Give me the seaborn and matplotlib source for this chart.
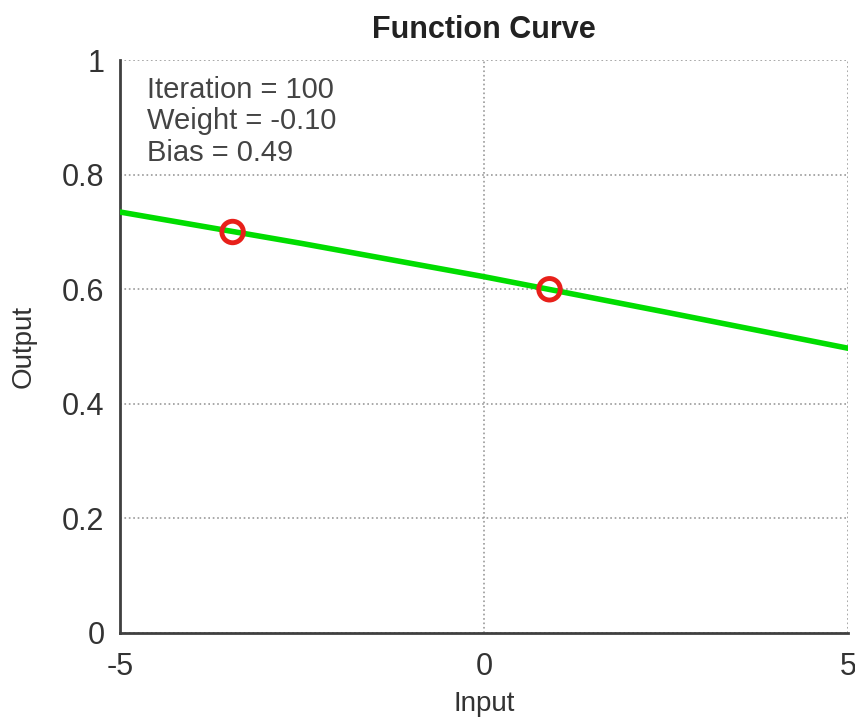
import matplotlib
matplotlib.use('Agg')
import matplotlib.pyplot as plt
import seaborn as sns

# curve
curve_x = [-5, -2.5, 0, 2.5, 5]
curve_y = [0.735, 0.68, 0.622, 0.56, 0.497]

# training points
point_x = [-3.45, 0.9]
point_y = [0.70, 0.60]

info_lines = ['Iteration = 100', 'Weight = -0.10', 'Bias = 0.49']
x_ticks = [-5, 0, 5]
y_ticks = [0, 0.2, 0.4, 0.6, 0.8, 1]

sns.set_theme(style='white')
plt.rcParams['font.family'] = ['Liberation Sans', 'DejaVu Sans']

fig, ax = plt.subplots(figsize=(8.55, 7.25), dpi=100)
fig.subplots_adjust(left=0.14, right=0.992, top=0.917, bottom=0.127)

sns.lineplot(x=curve_x, y=curve_y, ax=ax, color='#00dd00', linewidth=4, zorder=3)
sns.scatterplot(
    x=point_x,
    y=point_y,
    ax=ax,
    s=240,
    marker='o',
    facecolor='none',
    edgecolor='#e8201a',
    linewidth=3.5,
    zorder=4
)

ax.set_xlim(-5, 5)
ax.set_ylim(0, 1)
ax.set_xticks(x_ticks)
ax.set_xticklabels(['-5', '0', '5'])
ax.set_yticks(y_ticks)
ax.set_yticklabels(['0', '0.2', '0.4', '0.6', '0.8', '1'])
ax.tick_params(labelsize=22, length=5, direction='in', color='#404040',
               labelcolor='#333333')
ax.tick_params(axis='x', pad=14)
ax.tick_params(axis='y', pad=11)
ax.grid(True, linestyle=':', color='#9a9a9a', linewidth=1.2)

for side in ['top', 'right']:
    ax.spines[side].set_visible(False)
for side in ['left', 'bottom']:
    ax.spines[side].set_color('#404040')
    ax.spines[side].set_linewidth(2)

ax.set_xlabel('Input', fontsize=20, labelpad=6, color='#333333')
ax.set_ylabel('Output', fontsize=20, labelpad=18, color='#333333')
ax.set_title('Function Curve', fontsize=22, fontweight='bold', pad=16,
             color='#222222')

ax.text(
    0.037, 0.973, '\n'.join(info_lines),
    transform=ax.transAxes,
    fontsize=21,
    va='top',
    ha='left',
    color='#444444',
    linespacing=1.17
)

plt.savefig('out.png', dpi=100)
plt.close()
